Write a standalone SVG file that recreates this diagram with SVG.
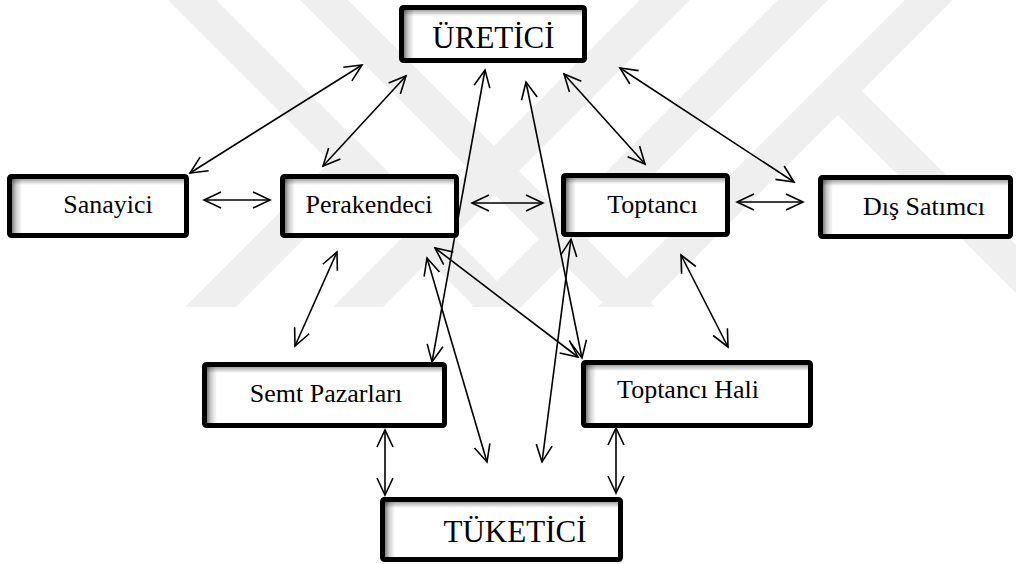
<svg xmlns="http://www.w3.org/2000/svg" width="1016" height="564" viewBox="0 0 1016 564">
<style>
.wm{fill:#efefef}
.box{fill:#fff}
.sl{fill:url(#gl)}
.st{fill:url(#gt)}
.frame{fill:none;stroke:#000;stroke-width:5;stroke-linejoin:round}
.lbl{font-family:"Liberation Serif","Times New Roman",serif;font-size:26px;fill:#000;text-anchor:middle}
.big{font-size:31px}
.c line{stroke:#000;stroke-width:1.6;marker-start:url(#ah);marker-end:url(#ah)}
</style>
<defs>
<marker id="ah" viewBox="-20 -10 22 20" refX="0" refY="0" markerWidth="22" markerHeight="20" markerUnits="userSpaceOnUse" orient="auto-start-reverse">
<path d="M-17,-8 L0,0 L-17,8" fill="none" stroke="#000" stroke-width="1.6"/>
</marker>
<linearGradient id="gl" x1="0" y1="0" x2="1" y2="0">
<stop offset="0" stop-color="#000" stop-opacity="0.5"/>
<stop offset="0.4" stop-color="#000" stop-opacity="0.2"/>
<stop offset="1" stop-color="#000" stop-opacity="0"/>
</linearGradient>
<linearGradient id="gt" x1="0" y1="0" x2="0" y2="1">
<stop offset="0" stop-color="#000" stop-opacity="0.35"/>
<stop offset="1" stop-color="#000" stop-opacity="0"/>
</linearGradient>
</defs>
<rect width="1016" height="564" fill="#fff"/>

<g id="watermark">
<polygon class="wm" points="168,0 216,0 523,307 475,307"/>
<polygon class="wm" points="185,307 354,138 379.5,163.5 236,307"/>
<polygon class="wm" points="300,0 348,0 655,307 607,307"/>
<polygon class="wm" points="640,0 690,0 383,307 333,307"/>
<polygon class="wm" points="778,0 828,0 521,307 471,307"/>
<polygon class="wm" points="905,0 953,0 646,307 598,307"/>
<polygon class="wm" points="838,67 1016,245 1016,293 814,91"/>
</g>

<g class="c" id="connectors">
<line x1="190" y1="173" x2="362" y2="65"/>
<line x1="323" y1="166" x2="406" y2="76"/>
<line x1="485" y1="70" x2="432" y2="362"/>
<line x1="526" y1="82" x2="582" y2="358"/>
<line x1="564" y1="74" x2="645" y2="164"/>
<line x1="620" y1="68" x2="794" y2="182"/>
<line x1="204" y1="200" x2="270" y2="200"/>
<line x1="472" y1="203" x2="543" y2="203"/>
<line x1="737" y1="202" x2="803" y2="202"/>
<line x1="337" y1="252" x2="295" y2="346"/>
<line x1="427" y1="258" x2="487" y2="462"/>
<line x1="435" y1="248" x2="578" y2="357"/>
<line x1="571" y1="239" x2="542" y2="462"/>
<line x1="681" y1="255" x2="728" y2="347"/>
<line x1="385" y1="430" x2="385" y2="495"/>
<line x1="616" y1="428" x2="616" y2="493"/>
</g>

<g id="uretici">
<rect class="box" x="401.5" y="7.5" width="183" height="53"/>
<rect class="sl" x="404" y="10" width="10" height="48"/>
<rect class="st" x="404" y="10" width="178" height="6"/>
<rect class="frame" x="401.5" y="7.5" width="183" height="53" rx="2"/>
<text class="lbl big" x="493.5" y="48">ÜRETİCİ</text>
</g>
<g id="sanayici">
<rect class="box" x="9.5" y="176.5" width="177" height="59"/>
<rect class="sl" x="12" y="179" width="10" height="54"/>
<rect class="st" x="12" y="179" width="172" height="6"/>
<rect class="frame" x="9.5" y="176.5" width="177" height="59" rx="2"/>
<text class="lbl" x="108" y="213">Sanayici</text>
</g>
<g id="perakendeci">
<rect class="box" x="282.5" y="176.5" width="174" height="59"/>
<rect class="sl" x="285" y="179" width="10" height="54"/>
<rect class="st" x="285" y="179" width="169" height="6"/>
<rect class="frame" x="282.5" y="176.5" width="174" height="59" rx="2"/>
<text class="lbl" x="369" y="213">Perakendeci</text>
</g>
<g id="toptanci">
<rect class="box" x="563.5" y="175.5" width="164" height="59"/>
<rect class="sl" x="566" y="178" width="10" height="54"/>
<rect class="st" x="566" y="178" width="159" height="6"/>
<rect class="frame" x="563.5" y="175.5" width="164" height="59" rx="2"/>
<text class="lbl" x="652.5" y="213">Toptancı</text>
</g>
<g id="dis-satimci">
<rect class="box" x="820.5" y="177.5" width="190" height="59"/>
<rect class="sl" x="823" y="180" width="10" height="54"/>
<rect class="st" x="823" y="180" width="185" height="6"/>
<rect class="frame" x="820.5" y="177.5" width="190" height="59" rx="2"/>
<text class="lbl" x="924" y="215">Dış Satımcı</text>
</g>
<g id="semt-pazarlari">
<rect class="box" x="204.5" y="364.5" width="240" height="61"/>
<rect class="sl" x="207" y="367" width="10" height="56"/>
<rect class="st" x="207" y="367" width="235" height="6"/>
<rect class="frame" x="204.5" y="364.5" width="240" height="61" rx="2"/>
<text class="lbl" x="326" y="402">Semt Pazarları</text>
</g>
<g id="toptanci-hali">
<rect class="box" x="583.5" y="362.5" width="227" height="63"/>
<rect class="sl" x="586" y="365" width="10" height="58"/>
<rect class="st" x="586" y="365" width="222" height="6"/>
<rect class="frame" x="583.5" y="362.5" width="227" height="63" rx="2"/>
<text class="lbl" x="688" y="398">Toptancı Hali</text>
</g>
<g id="tuketici">
<rect class="box" x="382.5" y="499.5" width="238" height="60"/>
<rect class="sl" x="385" y="502" width="10" height="55"/>
<rect class="st" x="385" y="502" width="233" height="6"/>
<rect class="frame" x="382.5" y="499.5" width="238" height="60" rx="2"/>
<text class="lbl big" x="515" y="542">TÜKETİCİ</text>
</g>
</svg>
